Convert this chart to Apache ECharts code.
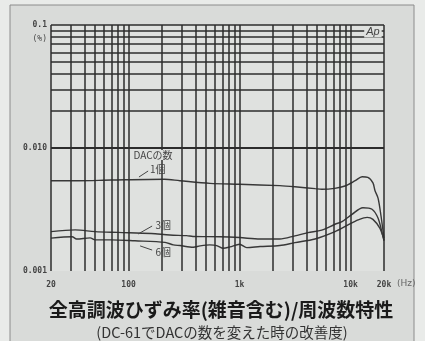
<!DOCTYPE html>
<html><head><meta charset="utf-8">
<script src="https://cdn.jsdelivr.net/npm/echarts@6/dist/echarts.min.js"></script>
<style>html,body{margin:0;padding:0;background:#e9ebe9;} #c{width:425px;height:341px;}</style>
</head><body><div id="c"></div>
<script>
// tick labels
const xTickValues = [20, 100, 1000, 10000, 20000];
const xTickLabels = ['20', '100', '1k', '10k', '20k'];
const yTickValues = [0.001, 0.01, 0.1];
const yTickLabels = ['0.001', '0.010', '0.1'];
// grid lines (log paper)
const xGridValues = [20,30,40,50,60,70,80,90,100,200,300,400,500,600,700,800,900,1000,2000,3000,4000,5000,6000,7000,8000,9000,10000,20000];
const yGridValues = [0.001,0.002,0.003,0.004,0.005,0.006,0.007,0.008,0.009,0.01,0.02,0.03,0.04,0.05,0.06,0.07,0.08,0.09,0.1];
// series: 1 DAC
const freq1 = [20, 35, 70, 210, 290, 540, 1000, 2300, 3150, 4800, 5500, 7200, 8900, 11000, 12700, 14300, 15900, 16600, 17700, 18800, 20000];
const thd1  = [0.00542, 0.00542, 0.00549, 0.00557, 0.00542, 0.00516, 0.00507, 0.00494, 0.00484, 0.00467, 0.00462, 0.00470, 0.00491, 0.00542, 0.00584, 0.00578, 0.00520, 0.00450, 0.00390, 0.00280, 0.00185];
// series: 3 DACs
const freq3 = [20, 33, 50, 80, 160, 235, 334, 380, 666, 1000, 1530, 2300, 3150, 4130, 5500, 7240, 8370, 10300, 12900, 15600, 17700, 19600, 20000];
const thd3  = [0.00209, 0.00216, 0.00209, 0.00206, 0.00202, 0.00196, 0.00194, 0.00191, 0.00190, 0.00187, 0.00182, 0.00182, 0.00193, 0.00205, 0.00215, 0.00240, 0.00252, 0.00289, 0.00327, 0.00318, 0.00268, 0.00190, 0.00176];
// series: 6 DACs
const freq6 = [20, 31, 34, 45, 50, 70, 114, 213, 253, 290, 383, 440, 540, 622, 713, 820, 1000, 1160, 1530, 2300, 3150, 4780, 7240, 9480, 11700, 14100, 15900, 18400, 20000];
const thd6  = [0.00185, 0.00190, 0.00182, 0.00186, 0.00179, 0.00179, 0.00176, 0.00171, 0.00163, 0.00161, 0.00156, 0.00160, 0.00163, 0.00161, 0.00153, 0.00157, 0.00165, 0.00155, 0.00158, 0.00161, 0.00170, 0.00182, 0.00209, 0.00237, 0.00260, 0.00273, 0.00263, 0.00222, 0.00179];
// annotations
const annoLabels = ['DACの数', '1個', '3個', '6個', 'Ap'];
const annoPos = [[166, 0.00877], [183, 0.00675], [205, 0.00235], [205, 0.00141], [15900, 0.0877]];
const leaders = [
  [[124, 0.00581], [150, 0.00650]],
  [[122, 0.00200], [163, 0.00232]],
  [[127, 0.00160], [163, 0.00148]],
  [[14300, 0.0820], [15000, 0.0900]]
];

const pair = (f, v) => f.map((x, i) => [x, v[i]]);
const GRID = '#2c2c2c';
const CURVE = '#383838';
const PLOTBG = '#dfe1df';

const chart = echarts.init(document.getElementById('c'), null, {renderer: 'canvas'});
chart.setOption({
  animation: false,
  backgroundColor: 'transparent',
  graphic: [
    {type: 'rect', shape: {x: 10, y: 5, width: 404, height: 345}, style: {fill: '#d9dbd9', stroke: '#8c8c8c', lineWidth: 1}, z: -10},
    {type: 'text', x: 47, y: 39, style: {text: '(%)', font: '8px "DejaVu Sans Mono"', fill: '#444', textAlign: 'right', textVerticalAlign: 'middle'}},
    {type: 'text', x: 397, y: 284, style: {text: '(Hz)', font: '9px "DejaVu Sans"', fill: '#666', textAlign: 'left', textVerticalAlign: 'middle'}},
    {type: 'text', x: 221, y: 310, style: {text: '全高調波ひずみ率(雑音含む)/周波数特性', font: 'bold 19px "Noto Sans CJK JP"', fill: '#1a1a1a', textAlign: 'center', textVerticalAlign: 'middle'}},
    {type: 'text', x: 222, y: 332, style: {text: '(DC-61でDACの数を変えた時の改善度)', font: '14.5px "Noto Sans CJK JP"', fill: '#333', textAlign: 'center', textVerticalAlign: 'middle'}}
  ],
  grid: {left: 51, right: 41, top: 25, bottom: 70, show: true, backgroundColor: PLOTBG, borderWidth: 0},
  xAxis: {
    type: 'log', logBase: 10, min: 20, max: 20000,
    axisLine: {show: false}, axisTick: {show: false}, splitLine: {show: false},
    axisLabel: {
      customValues: xTickValues, margin: 10,
      fontSize: 8, fontFamily: 'DejaVu Sans Mono', color: '#444', fontWeight: 'bold',
      formatter: v => { const i = xTickValues.findIndex(t => Math.abs(t - v) / t < 1e-6); return i >= 0 ? xTickLabels[i] : ''; }
    }
  },
  yAxis: {
    type: 'log', logBase: 10, min: 0.001, max: 0.1,
    axisLine: {show: false}, axisTick: {show: false}, splitLine: {show: false},
    axisLabel: {
      margin: 4, fontSize: 8, fontFamily: 'DejaVu Sans Mono', color: '#444', fontWeight: 'bold',
      formatter: v => { const i = yTickValues.findIndex(t => Math.abs(t - v) / t < 1e-6); return i >= 0 ? yTickLabels[i] : ''; }
    }
  },
  series: [
    {
      type: 'line', data: [], z: 1, silent: true,
      markLine: {
        silent: true, symbol: ['none', 'none'], label: {show: false}, animation: false,
        lineStyle: {color: GRID, width: 1.5, type: 'solid'},
        data: xGridValues.map(v => ({xAxis: v})).concat(yGridValues.map(v => ({yAxis: v})))
      }
    },
    {type: 'line', name: '1個', data: pair(freq1, thd1), smooth: 0.3, showSymbol: false, z: 3, lineStyle: {color: CURVE, width: 1.4}},
    {type: 'line', name: '3個', data: pair(freq3, thd3), smooth: 0.3, showSymbol: false, z: 3, lineStyle: {color: CURVE, width: 1.4}},
    {type: 'line', name: '6個', data: pair(freq6, thd6), smooth: 0.3, showSymbol: false, z: 3, lineStyle: {color: CURVE, width: 1.4}},
    {
      type: 'line', data: [], z: 4, silent: true,
      markLine: {
        silent: true, symbol: ['none', 'none'], label: {show: false}, animation: false,
        lineStyle: {color: '#444', width: 1, type: 'solid'},
        data: leaders.map(l => [{coord: l[0]}, {coord: l[1]}])
      },
      markPoint: {
        silent: true, animation: false, symbol: 'circle', symbolSize: 1,
        itemStyle: {color: 'rgba(0,0,0,0)'},
        data: annoLabels.map((t, i) => ({
          coord: annoPos[i],
          label: {
            show: true, position: 'inside', formatter: t,
            fontSize: t === 'Ap' ? 11 : 10,
            fontStyle: t === 'Ap' ? 'italic' : 'normal',
            fontFamily: t === 'Ap' ? 'Liberation Sans' : 'Noto Sans CJK JP',
            color: '#444',
            backgroundColor: (t === 'DACの数' || t === 'Ap') ? PLOTBG : 'transparent',
            padding: (t === 'DACの数' || t === 'Ap') ? [0, 2] : 0
          }
        }))
      }
    }
  ]
});
</script>
</body></html>
